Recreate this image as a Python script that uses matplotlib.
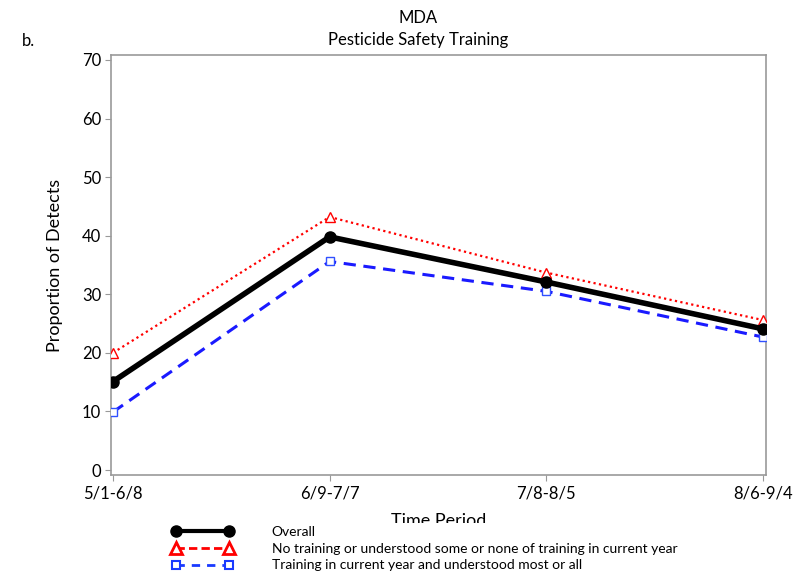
import matplotlib
matplotlib.use("Agg")
import matplotlib.pyplot as plt
from matplotlib.lines import Line2D

plt.rcParams['font.family'] = ['Lato', 'DejaVu Sans']

# Data
periods = ["5/1-6/8", "6/9-7/7", "7/8-8/5", "8/6-9/4"]
overall = [15.1, 39.8, 32.1, 24.1]
no_training = [20.0, 43.2, 33.7, 25.6]
training = [9.9, 35.6, 30.5, 22.7]
y_ticks = [0, 10, 20, 30, 40, 50, 60, 70]

labels = ["Overall",
          "No training or understood some or none of training in current year",
          "Training in current year and understood most or all"]

fig = plt.figure(figsize=(7.94, 5.79), dpi=100)
ax = fig.add_axes([111 / 794, 1 - 475 / 579, 655 / 794, 420 / 579])

x = list(range(len(periods)))
ax.plot(x, no_training, color="red", linestyle=(0, (1, 1.5)), linewidth=1.6,
        marker="^", markersize=7, markerfacecolor="white", markeredgecolor="red",
        markeredgewidth=1, zorder=3)
ax.plot(x, training, color="#1a1aff", linestyle=(0, (4, 2.5)), linewidth=2.2,
        marker="s", markersize=6, markerfacecolor="white", markeredgecolor="#3050ff",
        markeredgewidth=1, zorder=3)
ax.plot(x, overall, color="black", linewidth=4, marker="o", markersize=8, zorder=4)

ax.set_xlim(-0.009, 3.014)
ax.set_ylim(-0.85, 70.85)
ax.set_yticks(y_ticks)
ax.set_yticklabels([str(v) for v in y_ticks])
ax.set_xticks(x)
ax.set_xticklabels(periods)
ax.tick_params(axis="both", labelsize=12, length=4, color="#999999", direction="out")
ax.tick_params(axis="y", pad=3)
for s in ax.spines.values():
    s.set_color("#999999")
    s.set_linewidth(1.2)

ax.set_xlabel("Time Period", fontsize=13, labelpad=8)
ax.set_ylabel("Proportion of Detects", fontsize=13, labelpad=14)

fig.text(0.527, 1 - 18 / 579, "MDA", ha="center", va="center", fontsize=12)
fig.text(0.527, 1 - 40 / 579, "Pesticide Safety Training", ha="center", va="center", fontsize=12)
fig.text(22 / 794, 1 - 41 / 579, "b.", ha="left", va="center", fontsize=12)

handles = [
    Line2D([], [], color="black", linewidth=3, marker="o", markersize=8),
    Line2D([], [], color="red", linestyle=(0, (3, 1.5)), linewidth=2, marker="^",
           markersize=9, markerfacecolor="white", markeredgewidth=2),
    Line2D([], [], color="#1a3aff", linestyle=(0, (3, 2.5)), linewidth=2, marker="s",
           markersize=6, markerfacecolor="white", markeredgewidth=1.5),
]
leg = fig.legend(handles, labels, loc="upper left", numpoints=2,
                 bbox_to_anchor=(162 / 794, 1 - 516 / 579), fontsize=10,
                 handlelength=4.4, handletextpad=2.8, labelspacing=0.35,
                 frameon=True, facecolor="white", edgecolor="none", framealpha=1,
                 borderpad=0.2, fancybox=False)

fig.savefig("out.png", dpi=100)
